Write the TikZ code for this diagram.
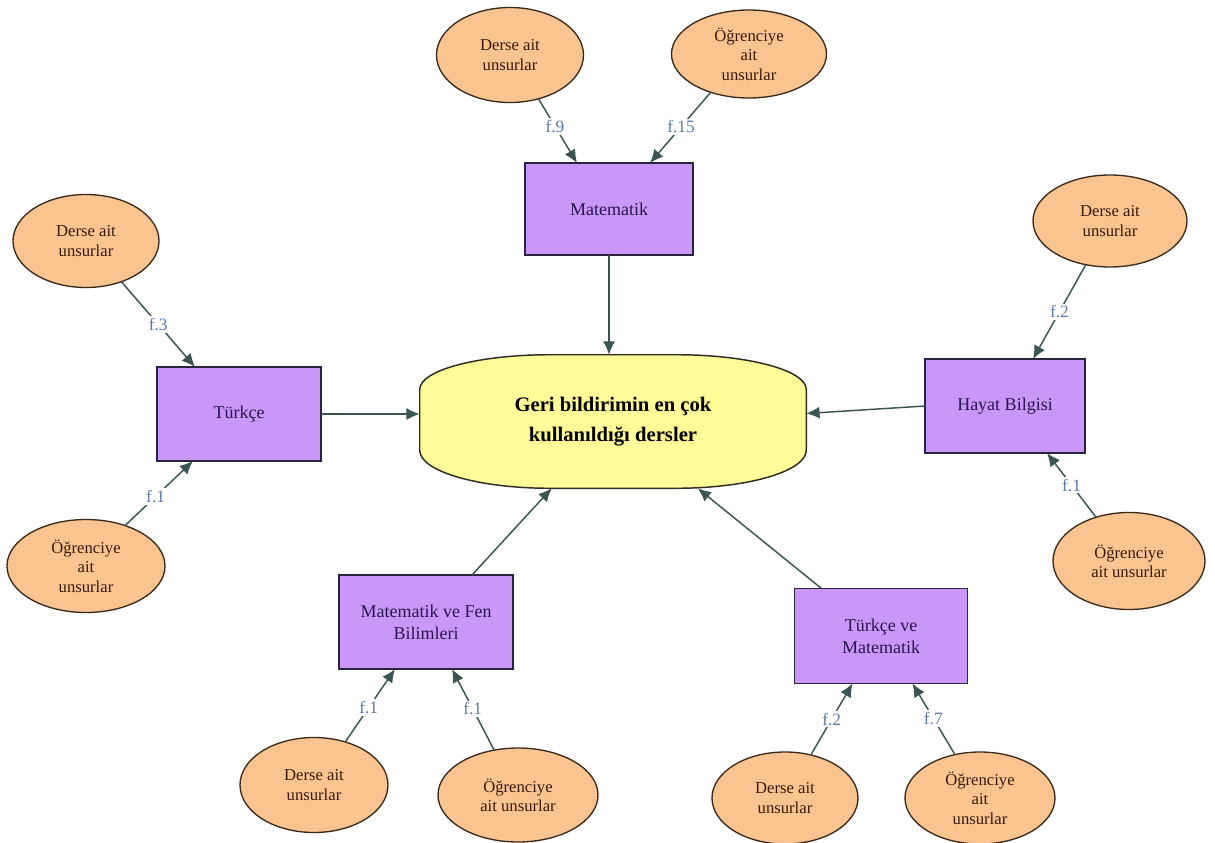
\documentclass[tikz,border=0pt]{standalone}
\usepackage{fontspec}
\setmainfont{Liberation Serif}
\usetikzlibrary{shapes.geometric,arrows.meta,calc,backgrounds}
\definecolor{ellfill}{HTML}{F9C48F}
\definecolor{ellline}{HTML}{3A2A1C}
\definecolor{elltext}{HTML}{3A1A0C}
\definecolor{boxfill}{HTML}{C997F7}
\definecolor{boxline}{HTML}{2A2240}
\definecolor{boxtext}{HTML}{2A1650}
\definecolor{cfill}{HTML}{FFFB98}
\definecolor{cline}{HTML}{2E2E22}
\definecolor{arrowcol}{HTML}{3B5553}
\definecolor{labcol}{HTML}{5B7AA8}
\begin{document}
\begin{tikzpicture}[x=0.75pt,y=0.75pt,
  ell/.style={ellipse, draw=ellline, line width=1pt, fill=ellfill, text=elltext,
    inner sep=0pt, outer sep=0pt, align=center, font=\fontsize{12.5}{14.5}\selectfont},
  box/.style={rectangle, draw=boxline, line width=1pt, fill=boxfill, text=boxtext,
    inner sep=0pt, outer sep=0pt, align=center, font=\fontsize{13.5}{16.5}\selectfont},
  conn/.style={draw=arrowcol, line width=1.1pt, -{Latex[length=10pt,width=9pt]}},
  lab/.style={fill=white, text=labcol, inner sep=1.5pt, font=\fontsize{13}{14}\selectfont}
]
\useasboundingbox (0,0) rectangle (1215,-843);
\begin{scope}[on background layer]
  \fill[white] (0,0) rectangle (1215,-843);
\end{scope}

% central node
\node[draw=none, minimum width=289.5pt, minimum height=99.75pt, align=center,
      font=\fontsize{15.5}{22}\selectfont\bfseries, text=black] (c) at (613,-421.5)
      {Geri bildirimin en çok\\kullanıldığı dersler};
\begin{scope}[on background layer]
  \filldraw[fill=cfill, draw=cline, line width=1.1pt]
    ([yshift=-26pt]c.north west) arc[start angle=180,end angle=90,x radius=97.5pt,y radius=26pt]
    -- ([xshift=-97.5pt]c.north east) arc[start angle=90,end angle=0,x radius=97.5pt,y radius=26pt]
    -- ([yshift=28.5pt]c.south east) arc[start angle=0,end angle=-90,x radius=97.5pt,y radius=28.5pt]
    -- ([xshift=97.5pt]c.south west) arc[start angle=270,end angle=180,x radius=97.5pt,y radius=28.5pt]
    -- cycle;
\end{scope}

% subject boxes
\node[box, minimum width=126pt, minimum height=69pt] (mat) at (609,-209) {Matematik};
\node[box, minimum width=123pt, minimum height=70.5pt] (tur) at (239,-414) {Türkçe};
\node[box, minimum width=120pt, minimum height=70.5pt] (hay) at (1005,-406) {Hayat Bilgisi};
\node[box, minimum width=130.5pt, minimum height=70.5pt] (mfb) at (426,-622) {Matematik ve Fen\\Bilimleri};
\node[box, minimum width=129.75pt, minimum height=71.25pt] (tm) at (881,-636) {Türkçe ve\\Matematik};

% ellipses
\node[ell, minimum width=110.25pt, minimum height=71.25pt] (e1) at (510,-55) {Derse ait\\unsurlar};
\node[ell, minimum width=116.25pt, minimum height=66pt] (e2) at (749,-54) {Öğrenciye\\ait\\unsurlar};
\node[ell, minimum width=109.5pt, minimum height=69.75pt] (e3) at (86,-241) {Derse ait\\unsurlar};
\node[ell, minimum width=118.5pt, minimum height=69.75pt] (e4) at (86,-566) {Öğrenciye\\ait\\unsurlar};
\node[ell, minimum width=115.5pt, minimum height=69pt] (e5) at (1110,-221) {Derse ait\\unsurlar};
\node[ell, minimum width=114pt, minimum height=72.75pt] (e6) at (1129,-561) {Öğrenciye\\ait unsurlar};
\node[ell, minimum width=111pt, minimum height=71.25pt] (e7) at (314,-785) {Derse ait\\unsurlar};
\node[ell, minimum width=120pt, minimum height=70.5pt] (e8) at (518,-795) {Öğrenciye\\ait unsurlar};
\node[ell, minimum width=109.5pt, minimum height=69pt] (e9) at (785,-798) {Derse ait\\unsurlar};
\node[ell, minimum width=112.5pt, minimum height=69pt] (e10) at (980,-798) {Öğrenciye\\ait\\unsurlar};

% ellipse -> box connectors
\draw[conn] (e1.-57) -- node[lab,pos=0.43]{f.9} ($(mat.north west)+(52,0)$);
\draw[conn] (e2.-135) -- node[lab,pos=0.49]{f.15} ($(mat.north west)+(125,0)$);
\draw[conn] (e3.-49) -- node[lab,pos=0.5]{f.3} ($(tur.north west)+(38,0)$);
\draw[conn] (e4.46) -- node[lab,pos=0.45]{f.1} ($(tur.south west)+(36,0)$);
\draw[conn] (e5.-119) -- node[lab,pos=0.5]{f.2} ($(hay.north west)+(108,0)$);
\draw[conn] (e6.127) -- node[lab,pos=0.5]{f.1} ($(hay.south west)+(122,0)$);
\draw[conn] (e7.54) -- node[lab,pos=0.47]{f.1} ($(mfb.south west)+(56,0)$);
\draw[conn] (e8.118) -- node[lab,pos=0.51]{f.1} ($(mfb.south west)+(113,0)$);
\draw[conn] (e9.59) -- node[lab,pos=0.5]{f.2} ($(tm.south west)+(58,0)$);
\draw[conn] (e10.120) -- node[lab,pos=0.51]{f.7} ($(tm.south west)+(118,0)$);

% box -> central connectors
\draw[conn] (mat.south) -- (mat.south |- c.north);
\draw[conn] (tur.east) -- (tur.east -| c.west);
\draw[conn] (hay.west) -- ($(c.east)+(0,8)$);
\draw[conn] ($(mfb.north west)+(133,0)$) -- ($(c.south west)+(132,0)$);
\draw[conn] ($(tm.north west)+(27,0)$) -- ($(c.south west)+(278,0)$);
\end{tikzpicture}
\end{document}
